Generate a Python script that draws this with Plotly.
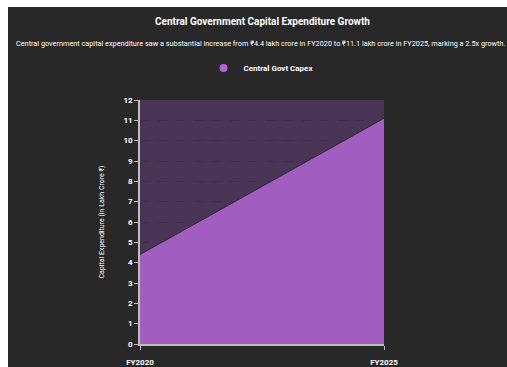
import plotly.graph_objects as go

years = ["FY2020", "FY2025"]
capex = [4.4, 11.1]
y_ticks = list(range(0, 13))

W, H = 507, 367
L, R, T, B = 140, 123, 100, 23
PW, PH = W - L - R, H - T - B

def px_x(px):
    return (px - L) / PW

def px_y(py):
    return (H - B - py) / PH

BG = "#282828"
FONT = "Roboto"

fig = go.Figure()
fig.add_trace(go.Scatter(
    x=years, y=capex, mode="lines", fill="tozeroy",
    line=dict(color="#2e2530", width=1),
    fillcolor="rgba(176,100,210,0.86)",
    showlegend=False, hoverinfo="skip",
))
fig.add_trace(go.Scatter(
    x=[None], y=[None], mode="markers", name="Central Govt Capex",
    marker=dict(color="#b060e0", size=8, symbol="circle"),
))

fig.update_layout(
    width=W, height=H,
    margin=dict(l=L, r=R, t=T, b=B, autoexpand=False),
    paper_bgcolor=BG, plot_bgcolor="#4a3556",
    font=dict(family=FONT, color="#ffffff", size=8),
    showlegend=True,
    legend=dict(orientation="h", x=px_x(261), xanchor="center", y=px_y(68), yanchor="middle",
                font=dict(family=FONT, size=8, color="#ffffff", weight="bold"),
                bgcolor="rgba(0,0,0,0)", itemwidth=30),
    xaxis=dict(
        type="category", range=[0, 1], showgrid=False,
        showline=True, linecolor="#bdbdbd", linewidth=1.5,
        ticks="outside", ticklen=4, tickcolor="#bdbdbd",
        tickfont=dict(family=FONT, size=8, color="#ffffff", weight="bold"),
        ticklabelstandoff=6,
        zeroline=False,
    ),
    yaxis=dict(
        range=[0, 12], tickvals=y_ticks, ticktext=[str(v) for v in y_ticks],
        showgrid=True, gridcolor="rgba(0,0,0,0.13)", griddash="dash", gridwidth=1,
        showline=True, linecolor="#bdbdbd", linewidth=1.5,
        ticks="outside", ticklen=4, tickcolor="#bdbdbd",
        tickfont=dict(family=FONT, size=8, color="#ffffff", weight="bold"),
        zeroline=False,
        title=dict(text="Capital Expenditure (in Lakh Crore ₹)",
                   font=dict(family=FONT, size=7, color="#ffffff"), standoff=18),
    ),
    annotations=[
        dict(text="<b>Central Government Capital Expenditure Growth</b>",
             xref="paper", yref="paper", x=px_x(262), y=px_y(21), xanchor="center", yanchor="middle",
             showarrow=False, font=dict(family=FONT, size=10, color="#ffffff")),
        dict(text="Central government capital expenditure saw a substantial increase from ₹4.4 lakh crore in FY2020 to ₹11.1 lakh crore in FY2025, marking a 2.5x growth.",
             xref="paper", yref="paper", x=px_x(260), y=px_y(44), xanchor="center", yanchor="middle",
             showarrow=False, font=dict(family=FONT, size=7.3, color="#ffffff")),
    ],
    shapes=[
        dict(type="rect", xref="paper", yref="paper", x0=px_x(0), x1=px_x(8), y0=px_y(H), y1=px_y(0),
             fillcolor="#ffffff", line=dict(width=0), layer="above"),
        dict(type="rect", xref="paper", yref="paper", x0=px_x(0), x1=px_x(W), y0=px_y(7), y1=px_y(0),
             fillcolor="#ffffff", line=dict(width=0), layer="above"),
    ],
)

fig.write_html("out.html")
